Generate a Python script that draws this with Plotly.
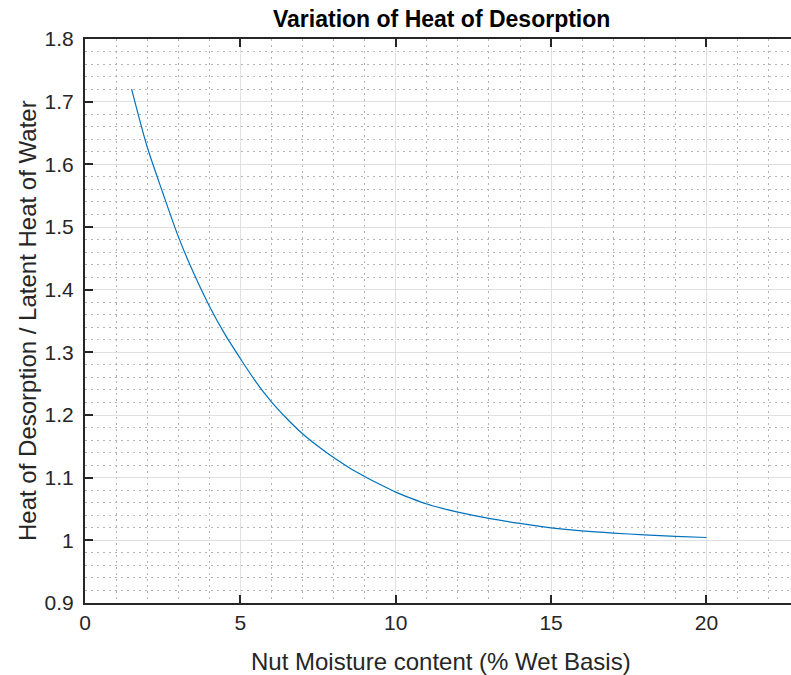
import plotly.graph_objects as go

# Data
moisture = [1.5, 2, 2.5, 3, 3.5, 4, 4.5, 5, 5.5, 6, 6.5, 7, 7.5, 8, 8.5, 9, 9.5, 10, 10.5, 11, 11.5,
            12, 13, 14, 15, 16, 17, 18, 19, 20]
heat_ratio = [1.720, 1.628, 1.555, 1.485, 1.426, 1.374, 1.329, 1.290, 1.253, 1.221, 1.194, 1.170,
              1.150, 1.132, 1.116, 1.102, 1.089, 1.077, 1.067, 1.058, 1.051,
              1.045, 1.035, 1.027, 1.020, 1.015, 1.0115, 1.0088, 1.0063, 1.0045]

x_ticks = [0, 5, 10, 15, 20]
y_ticks = [0.9, 1.0, 1.1, 1.2, 1.3, 1.4, 1.5, 1.6, 1.7, 1.8]
y_tick_text = ["0.9", "1", "1.1", "1.2", "1.3", "1.4", "1.5", "1.6", "1.7", "1.8"]

W, H = 791, 675
L, R, T, B = 85, 0, 39, 72
axis_col = "#262626"
font_fam = "Liberation Sans, Arial, sans-serif"

fig = go.Figure()
fig.add_trace(go.Scatter(x=moisture, y=heat_ratio, mode="lines",
                         line=dict(color="#0072BD", width=1.2, shape="spline", smoothing=0.8),
                         showlegend=False, hoverinfo="skip"))

fig.update_layout(
    width=W, height=H,
    margin=dict(l=L, r=R, t=T, b=B, pad=0),
    paper_bgcolor="white", plot_bgcolor="white",
    font=dict(family=font_fam, color=axis_col, size=21),
)

minor_common = dict(showgrid=True, gridcolor="#b4b4b4", griddash="2px,4px", gridwidth=1, ticks="")

fig.update_xaxes(
    range=[0, 22.72], tickvals=x_ticks, ticktext=[str(v) for v in x_ticks],
    showline=True, linecolor=axis_col, linewidth=2, mirror="ticks",
    ticks="inside", ticklen=8, tickwidth=2, tickcolor=axis_col,
    showgrid=True, gridcolor="#e0e0e0", gridwidth=1,
    zeroline=False,
    tickfont=dict(size=21, color=axis_col),
    minor=dict(dtick=1, **minor_common),
)
fig.update_yaxes(
    range=[0.9, 1.8], tickvals=y_ticks, ticktext=y_tick_text,
    showline=True, linecolor=axis_col, linewidth=2, mirror=False,
    ticks="inside", ticklen=8, tickwidth=2, tickcolor=axis_col,
    showgrid=True, gridcolor="#e0e0e0", gridwidth=1,
    zeroline=False,
    tickfont=dict(size=21, color=axis_col),
    ticklabelstandoff=5,
    minor=dict(dtick=0.02, **minor_common),
)

def px_to_paper_x(px):
    return (px - L) / (W - L - R)

def px_to_paper_y(py):
    return (H - B - py) / (H - T - B)

fig.add_annotation(text="<b>Variation of Heat of Desorption</b>", xref="paper", yref="paper",
                   x=px_to_paper_x(441), y=px_to_paper_y(19), xanchor="center", yanchor="middle",
                   showarrow=False, font=dict(size=23, color="black", family=font_fam))
fig.add_annotation(text="Nut Moisture content (% Wet Basis)", xref="paper", yref="paper",
                   x=px_to_paper_x(441), y=px_to_paper_y(661), xanchor="center", yanchor="middle",
                   showarrow=False, font=dict(size=24, color=axis_col, family=font_fam))
fig.add_annotation(text="Heat of Desorption / Latent Heat of Water", xref="paper", yref="paper",
                   x=px_to_paper_x(27), y=px_to_paper_y(321), xanchor="center", yanchor="middle",
                   textangle=-90, showarrow=False, font=dict(size=24, color=axis_col, family=font_fam))

fig.write_html("out.html")
